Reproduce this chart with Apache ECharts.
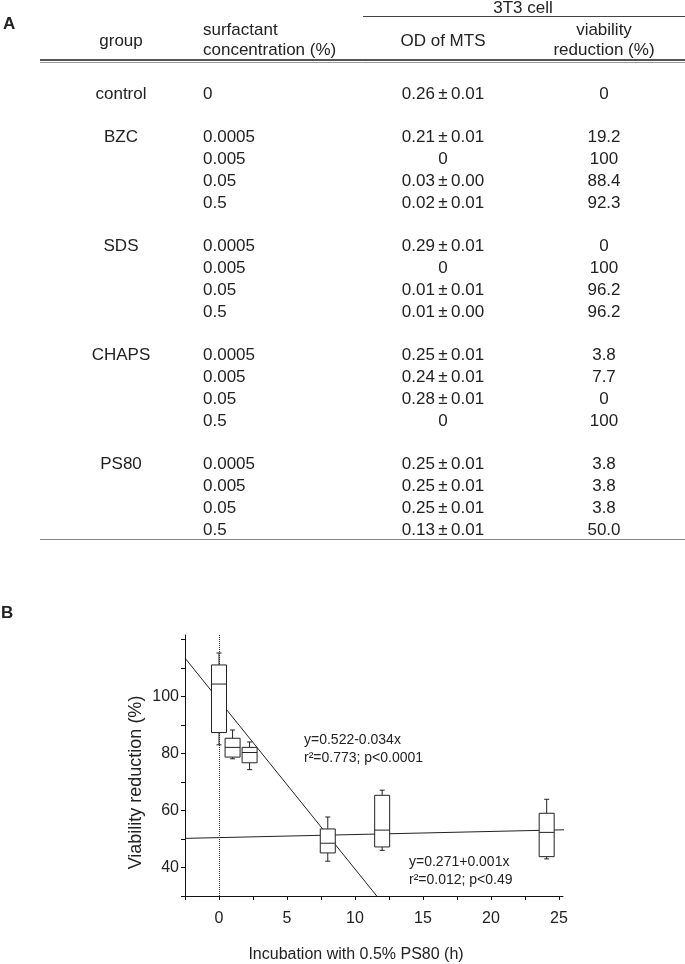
<!DOCTYPE html>
<html><head><meta charset="utf-8">
<script src="https://cdn.jsdelivr.net/npm/echarts@6/dist/echarts.min.js"></script>
<style>html,body{margin:0;padding:0;background:#fff}#c{width:685px;height:964px}</style>
</head><body><div id="c"></div>
<script>
// ---------- Panel A: table data ----------
const groupNames = ['control', 'BZC', 'SDS', 'CHAPS', 'PS80'];
const concentrations = [
  ['0'],
  ['0.0005', '0.005', '0.05', '0.5'],
  ['0.0005', '0.005', '0.05', '0.5'],
  ['0.0005', '0.005', '0.05', '0.5'],
  ['0.0005', '0.005', '0.05', '0.5']
];
const odOfMTS = [
  ['0.26±0.01'],
  ['0.21±0.01', '0', '0.03±0.00', '0.02±0.01'],
  ['0.29±0.01', '0', '0.01±0.01', '0.01±0.00'],
  ['0.25±0.01', '0.24±0.01', '0.28±0.01', '0'],
  ['0.25±0.01', '0.25±0.01', '0.25±0.01', '0.13±0.01']
];
const viabilityReduction = [
  ['0'],
  ['19.2', '100', '88.4', '92.3'],
  ['0', '100', '96.2', '96.2'],
  ['3.8', '7.7', '0', '100'],
  ['3.8', '3.8', '3.8', '50.0']
];

// ---------- Panel B: box plot data ----------
const hours       = [0, 1, 2.25, 8, 12, 24.1];
const whiskerLow  = [83.0, 78.1, 74.3, 42.2, 46.0, 43.0];
const quartile1   = [87.3, 78.7, 76.7, 45.1, 47.2, 43.8];
const medians     = [104.3, 82.1, 80.3, 48.5, 53.1, 52.3];
const quartile3   = [111.0, 85.3, 82.1, 53.5, 65.3, 59.0];
const whiskerHigh = [115.2, 88.2, 84.0, 57.7, 67.1, 63.9];
const fitLine1 = [[-2.5, 113.4], [11.6, 30]];
const fitLine2 = [[-2.5, 50.2], [26.2, 53.3]];
const xTickValues = [-2.5, 0, 2.5, 5, 7.5, 10, 12.5, 15, 17.5, 20, 22.5, 25];
const xLabelValues = [0, 5, 10, 15, 20, 25];
const yTickValues = [30, 40, 50, 60, 70, 80, 90, 100, 110, 120];
const yLabelValues = [40, 60, 80, 100];

const FONT = "'Liberation Sans', Arial, sans-serif";
const TXT = '#222';

// ---------- build table graphics ----------
const graphics = [];
function addText(text, x, y, align, size, weight) {
  graphics.push({
    type: 'text', x: x, y: y, silent: true,
    style: { text: text, fill: TXT, align: align, verticalAlign: 'middle',
      font: (weight || 'normal') + ' ' + (size || 17) + 'px ' + FONT }
  });
}
function addLine(x1, y1, x2, y2, color, w) {
  graphics.push({ type: 'line', silent: true, shape: { x1, y1, x2, y2 },
    style: { stroke: color, lineWidth: w } });
}
function spacedPM(s) { return s.replace('±', '\u2009±\u2009'); }
const COL_GROUP = 121, COL_CONC = 203, COL_OD = 443, COL_VIA = 604;
addText('A', 3, 24, 'left', 17, 'bold');
addText('B', 1, 613, 'left', 17, 'bold');
addText('3T3 cell', 523, 8, 'center');
addLine(363, 16.5, 685, 16.5, '#444', 1);
addText('group', COL_GROUP, 41, 'center');
addText('surfactant', COL_CONC, 30, 'left');
addText('concentration (%)', COL_CONC, 50, 'left');
addText('OD of MTS', COL_OD, 41, 'center');
addText('viability', COL_VIA, 30, 'center');
addText('reduction (%)', COL_VIA, 50, 'center');
addLine(40, 60, 685, 60, '#555', 2);
addLine(40, 62.5, 685, 62.5, '#999', 1);

const ROW0 = 94, ROWH = 21.8;
let rowIdx = 0;
groupNames.forEach(function (g, gi) {
  const y0 = ROW0 + rowIdx * ROWH;
  addText(g, COL_GROUP, y0, 'center');
  concentrations[gi].forEach(function (c, ri) {
    const y = ROW0 + (rowIdx + ri) * ROWH;
    addText(c, COL_CONC, y, 'left');
    addText(spacedPM(odOfMTS[gi][ri]), COL_OD, y, 'center');
    addText(viabilityReduction[gi][ri], COL_VIA, y, 'center');
  });
  rowIdx += concentrations[gi].length + 1;
});
addLine(40, 539.5, 685, 539.5, '#888', 1.2);

// regression annotations
addText('y=0.522-0.034x', 304, 740, 'left', 14);
addText('r²=0.773; p<0.0001', 304, 758, 'left', 14);
addText('y=0.271+0.001x', 409, 862, 'left', 14);
addText('r²=0.012; p<0.49', 409, 880, 'left', 14);

// ---------- box renderer ----------
function renderBox(params, api) {
  const x = api.value(0);
  const pLow = api.coord([x, api.value(1)]);
  const pQ1 = api.coord([x, api.value(2)]);
  const pMed = api.coord([x, api.value(3)]);
  const pQ3 = api.coord([x, api.value(4)]);
  const pHigh = api.coord([x, api.value(5)]);
  const hw = 7.5, cw = 2.5, cx = pMed[0];
  const st = { stroke: '#222', lineWidth: 1, fill: null };
  return {
    type: 'group',
    children: [
      { type: 'line', shape: { x1: cx, y1: pHigh[1], x2: cx, y2: pQ3[1] }, style: st },
      { type: 'line', shape: { x1: cx, y1: pQ1[1], x2: cx, y2: pLow[1] }, style: st },
      { type: 'line', shape: { x1: cx - cw, y1: pHigh[1], x2: cx + cw, y2: pHigh[1] }, style: st },
      { type: 'line', shape: { x1: cx - cw, y1: pLow[1], x2: cx + cw, y2: pLow[1] }, style: st },
      { type: 'rect', shape: { x: cx - hw, y: pQ3[1], width: 2 * hw, height: pQ1[1] - pQ3[1] },
        style: { stroke: '#222', lineWidth: 1, fill: '#fff' } },
      { type: 'line', shape: { x1: cx - hw, y1: pMed[1], x2: cx + hw, y2: pMed[1] }, style: st }
    ]
  };
}
const boxData = hours.map(function (h, i) {
  return [h, whiskerLow[i], quartile1[i], medians[i], quartile3[i], whiskerHigh[i]];
});

const chart = echarts.init(document.getElementById('c'), null, { renderer: 'canvas' });
chart.setOption({
  backgroundColor: '#fff',
  animation: false,
  textStyle: { fontFamily: FONT },
  grid: { left: 185, top: 635, width: 378, height: 263, containLabel: false },
  xAxis: {
    type: 'value', min: -2.5, max: 25.3,
    name: 'Incubation with 0.5% PS80 (h)', nameLocation: 'middle', nameGap: 51,
    nameMoveOverlap: false,
    nameTextStyle: { fontSize: 16, color: TXT, fontFamily: FONT, padding: [0, 36, 0, 0] },
    splitLine: { show: false },
    axisLine: { onZero: false, lineStyle: { color: '#111', width: 1 } },
    axisTick: { show: true, length: 4, customValues: xTickValues, lineStyle: { color: '#111' } },
    axisLabel: { customValues: xLabelValues, fontSize: 16, color: TXT, margin: 15, fontFamily: FONT }
  },
  yAxis: {
    type: 'value', min: 30, max: 121.5,
    name: 'Viability reduction (%)', nameLocation: 'middle', nameGap: 40, nameRotate: 90,
    nameMoveOverlap: false,
    nameTextStyle: { fontSize: 18, color: TXT, fontFamily: FONT, padding: [0, 34, 0, 0] },
    splitLine: { show: false },
    axisLine: { show: true, onZero: false, lineStyle: { color: '#111', width: 1 } },
    axisTick: { show: true, length: 4, customValues: yTickValues, lineStyle: { color: '#111' } },
    axisLabel: { customValues: yLabelValues, fontSize: 16, color: TXT, margin: 6, fontFamily: FONT }
  },
  series: [
    {
      type: 'line', data: fitLine1, symbol: 'none', clip: false, z: 2,
      lineStyle: { color: '#222', width: 1 },
      markLine: {
        silent: true, symbol: 'none', label: { show: false },
        lineStyle: { type: 'dotted', color: '#333', width: 1 },
        data: [{ xAxis: 0 }]
      }
    },
    { type: 'line', data: fitLine2, symbol: 'none', clip: false, z: 2,
      lineStyle: { color: '#222', width: 1 } },
    { type: 'custom', renderItem: renderBox, data: boxData, z: 5,
      encode: { x: 0, y: [1, 2, 3, 4, 5] } }
  ],
  graphic: graphics
});
</script>
</body></html>
